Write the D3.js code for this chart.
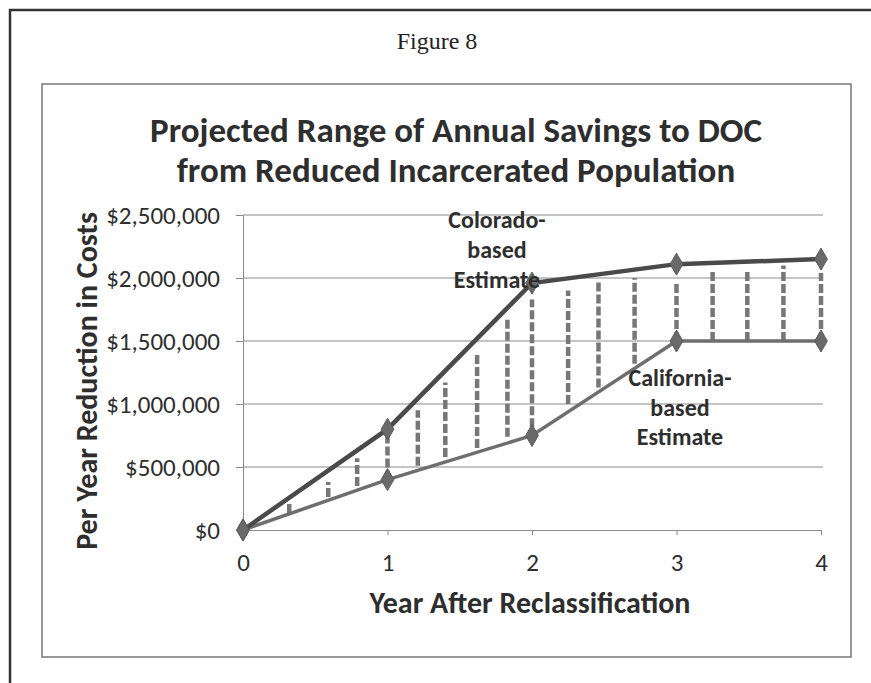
<!DOCTYPE html>
<html><head><meta charset="utf-8">
<script src="https://cdn.jsdelivr.net/npm/d3@7"></script>
<style>
html,body{margin:0;padding:0;background:#fff;}
svg{display:block;}
</style></head>
<body>
<svg id="chart" width="871" height="683"></svg>
<script>
// ---- data ----
const years = [0, 1, 2, 3, 4];
const coloradoEstimate = [0, 800000, 1960000, 2110000, 2150000];
const californiaEstimate = [0, 400000, 750000, 1500000, 1500000];
const yTicks = [0, 500000, 1000000, 1500000, 2000000, 2500000];
const xTicks = [0, 1, 2, 3, 4];
// dashed range bars between the two estimates
const rangeYears = [0.32, 0.59, 0.79, 1.0, 1.21, 1.4, 1.62, 1.83, 2.0, 2.25, 2.46, 2.71, 3.0, 3.25, 3.49, 3.74, 4.0];
const rangeHigh = [220000, 380000, 570000, 760000, 950000, 1170000, 1390000, 1680000, 1830000, 1900000, 1970000, 2000000, 1970000, 2070000, 2050000, 2100000, 2040000];
const rangeLow = [135000, 262000, 350000, 400000, 510000, 580000, 650000, 740000, 815000, 1000000, 1130000, 1320000, 1500000, 1500000, 1500000, 1500000, 1500000];
const figureLabel = "Figure 8";
const titleLines = ["Projected Range of Annual Savings to DOC", "from Reduced Incarcerated Population"];
const xTitle = "Year After Reclassification";
const yTitle = "Per Year Reduction in Costs";
const coloradoLabel = ["Colorado-", "based", "Estimate"];
const californiaLabel = ["California-", "based", "Estimate"];

// ---- drawing ----
const svg = d3.select("#chart");
const font = "Carlito, Calibri, Lato, sans-serif";
const textCol = "#2e2e2e";

const x = d3.scaleLinear().domain([0, 4]).range([243, 821]);
const y = d3.scaleLinear().domain([0, 2500000]).range([530, 215]);

// outer figure frame
svg.append("path").attr("d", "M10,683 L10,10 L871,10")
  .attr("fill", "none").attr("stroke", "#333").attr("stroke-width", 2.5);
svg.append("text").attr("x", 437).attr("y", 49).attr("text-anchor", "middle")
  .attr("font-family", "'Liberation Serif', 'Times New Roman', serif")
  .attr("font-size", 24).attr("fill", "#222").text(figureLabel);

// inner chart box
svg.append("rect").attr("x", 42).attr("y", 84).attr("width", 809).attr("height", 573)
  .attr("fill", "#fff").attr("stroke", "#777").attr("stroke-width", 1.5);

// title
svg.append("g").selectAll("text").data(titleLines).join("text")
  .attr("x", 456).attr("y", (d, i) => 142 + i * 40)
  .attr("text-anchor", "middle").attr("font-family", font).attr("font-weight", "bold")
  .attr("font-size", 35).attr("fill", textCol).text(d => d);

// gridlines
svg.append("g").selectAll("line").data(yTicks.filter(d => d > 0)).join("line")
  .attr("x1", x(0)).attr("x2", x(4) + 2).attr("y1", d => y(d)).attr("y2", d => y(d))
  .attr("stroke", "#8a8a8a").attr("stroke-width", 1);

// axes
const yAxis = d3.axisLeft(y).tickValues(yTicks).tickSize(7).tickPadding(16)
  .tickFormat(d => "$" + d3.format(",")(d));
const gy = svg.append("g").attr("transform", `translate(${x(0)},0)`).call(yAxis);
gy.select(".domain").attr("stroke", "#8a8a8a");
gy.selectAll(".tick line").attr("stroke", "#8a8a8a");
gy.selectAll("text").attr("font-family", font).attr("font-size", 25).attr("fill", textCol);

const xAxis = d3.axisBottom(x).tickValues(xTicks).tickSize(5).tickPadding(18)
  .tickFormat(d3.format("d"));
const gx = svg.append("g").attr("transform", `translate(0,${y(0)})`).call(xAxis);
gx.select(".domain").attr("stroke", "#8a8a8a");
gx.selectAll(".tick line").attr("stroke", "#8a8a8a");
gx.selectAll("text").attr("font-family", font).attr("font-size", 25).attr("fill", textCol);

// axis titles
svg.append("text").attr("x", 530).attr("y", 613).attr("text-anchor", "middle")
  .attr("font-family", font).attr("font-weight", "bold").attr("font-size", 30)
  .attr("fill", textCol).text(xTitle);
svg.append("text").attr("transform", "translate(97,381) rotate(-90)").attr("text-anchor", "middle")
  .attr("font-family", font).attr("font-weight", "bold").attr("font-size", 30)
  .attr("fill", textCol).text(yTitle);

// dashed range bars
svg.append("g").selectAll("line").data(rangeYears).join("line")
  .attr("x1", d => x(d)).attr("x2", d => x(d))
  .attr("y1", (d, i) => y(rangeLow[i])).attr("y2", (d, i) => y(rangeHigh[i]))
  .attr("stroke", "#777").attr("stroke-width", 4.5).attr("stroke-dasharray", "9,3");

// lines
const line = d3.line().x((d, i) => x(years[i])).y(d => y(d));
svg.append("path").datum(californiaEstimate).attr("d", line)
  .attr("fill", "none").attr("stroke", "#6e6e6e").attr("stroke-width", 3.5);
svg.append("path").datum(coloradoEstimate).attr("d", line)
  .attr("fill", "none").attr("stroke", "#4a4a4a").attr("stroke-width", 4.5);

// markers
const diamond = d3.symbol().type(d3.symbolDiamond).size(140);
[californiaEstimate, coloradoEstimate].forEach(series => {
  svg.append("g").selectAll("path").data(series).join("path")
    .attr("d", diamond)
    .attr("transform", (d, i) => `translate(${x(years[i])},${y(d)})`)
    .attr("fill", "#6a6a6a").attr("stroke", "#5a5a5a").attr("stroke-width", 1);
});

// annotations
svg.append("g").selectAll("text").data(coloradoLabel).join("text")
  .attr("x", 497).attr("y", (d, i) => 228 + i * 30).attr("text-anchor", "middle")
  .attr("font-family", font).attr("font-weight", "bold").attr("font-size", 24)
  .attr("fill", textCol).text(d => d);
svg.append("g").selectAll("text").data(californiaLabel).join("text")
  .attr("x", 680).attr("y", (d, i) => 386 + i * 29.5).attr("text-anchor", "middle")
  .attr("font-family", font).attr("font-weight", "bold").attr("font-size", 24)
  .attr("fill", textCol).text(d => d);
</script>
</body></html>
